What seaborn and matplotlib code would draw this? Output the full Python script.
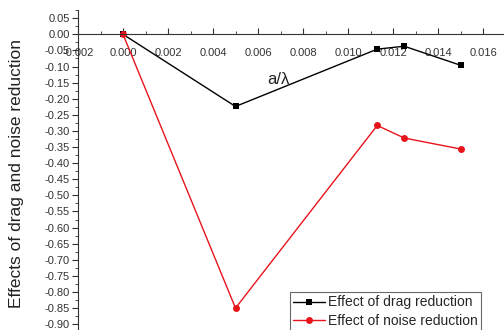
import matplotlib
matplotlib.use("Agg")
import matplotlib.pyplot as plt
import seaborn as sns
import pandas as pd
import numpy as np
from matplotlib.ticker import MultipleLocator, FormatStrFormatter

x_vals = [0.0, 0.005, 0.0113, 0.0125, 0.015]
drag = [0.0, -0.224, -0.046, -0.037, -0.096]
noise = [0.0, -0.85, -0.283, -0.322, -0.356]
labels = ["Effect of drag reduction", "Effect of noise reduction"]

sns.set_style("ticks")
plt.rcParams['font.family'] = ['Liberation Sans', 'DejaVu Sans']

fig = plt.figure(figsize=(5.04, 3.30), dpi=100)
ax = fig.add_axes([78/504, 0.0, (504-78)/504, 1 - 10/330])

df1 = pd.DataFrame({"x": x_vals, "y": drag})
df2 = pd.DataFrame({"x": x_vals, "y": noise})
sns.lineplot(data=df1, x="x", y="y", ax=ax, color="black", marker="s", markersize=4,
             markeredgewidth=0, linewidth=1.0, label=labels[0])
sns.lineplot(data=df2, x="x", y="y", ax=ax, color="#e8141b", marker="o", markersize=5,
             markeredgewidth=0, linewidth=1.0, label=labels[1])

ax.set_xlim(-0.002, 0.016933)
ax.set_ylim(-0.918, 0.0755)
ax.spines['top'].set_visible(False)
ax.spines['right'].set_visible(False)
ax.spines['bottom'].set_position(('data', 0))
for s in ['left', 'bottom']:
    ax.spines[s].set_linewidth(0.8)
    ax.spines[s].set_color('#333333')

ax.xaxis.set_major_locator(MultipleLocator(0.002))
ax.xaxis.set_minor_locator(MultipleLocator(0.001))
ax.xaxis.set_major_formatter(FormatStrFormatter('%.3f'))
ax.yaxis.set_major_locator(MultipleLocator(0.05))
ax.yaxis.set_minor_locator(MultipleLocator(0.025))
ax.yaxis.set_major_formatter(FormatStrFormatter('%.2f'))

ax.tick_params(axis='x', which='major', direction='in', length=4, width=0.8,
               labelsize=8, pad=9.5, colors='#333333')
ax.tick_params(axis='x', which='minor', direction='in', length=2, width=0.6, colors='#333333')
ax.tick_params(axis='y', which='major', direction='out', length=4, width=0.8,
               labelsize=8, pad=2, colors='#333333')
ax.tick_params(axis='y', which='minor', direction='out', length=2, width=0.6, colors='#333333')

ax.set_xlabel("")
ax.set_ylabel("")
fig.text(17/504, 1 - 173/330, "Effects of drag and noise reduction", rotation=90,
         ha='center', va='center', fontsize=12.5, color='#222222')
ax.text(0.0064, -0.139, "a/λ", fontsize=12, ha='left', va='center', color='#222222')

leg = ax.legend(loc='upper left', bbox_to_anchor=(290/504, 1 - 292/330),
                bbox_transform=fig.transFigure, fontsize=10, frameon=True,
                fancybox=False, handlelength=2.3, borderpad=0.25, labelspacing=0.3,
                handletextpad=0.2, borderaxespad=0)
leg.get_frame().set_edgecolor('#444444')
leg.get_frame().set_linewidth(0.8)

fig.savefig("out.png", dpi=100)
